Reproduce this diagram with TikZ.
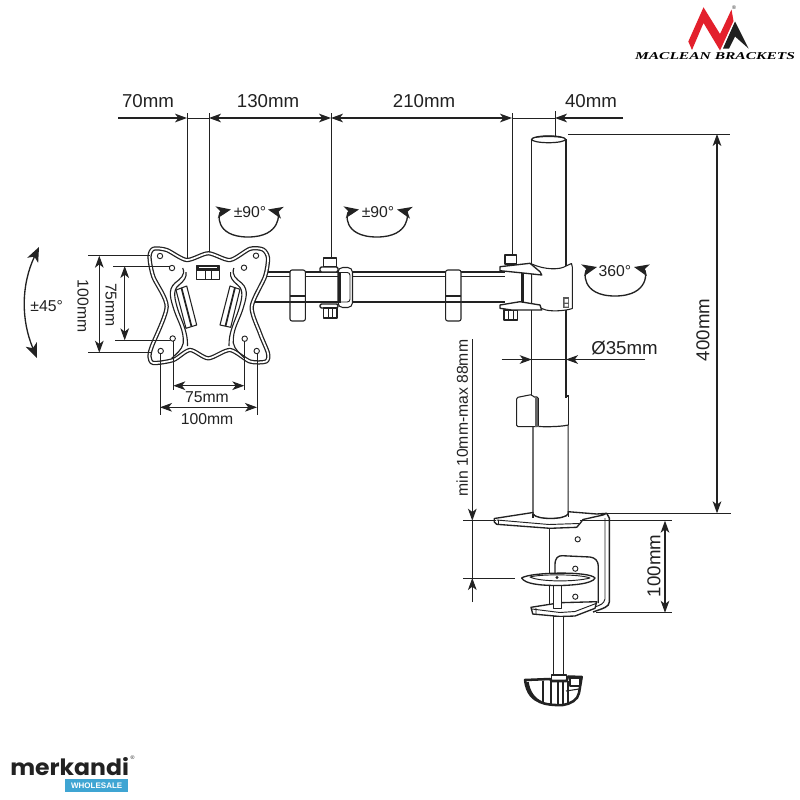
\documentclass[tikz,border=0pt]{standalone}
\usepackage{fontspec}
\usepackage{graphicx}
\setmainfont{Liberation Sans}
\newfontfamily\logoserif{Liberation Serif}
\newfontfamily\merkfont{Poppins}
\usetikzlibrary{arrows.meta}
\definecolor{ink}{HTML}{222222}
\definecolor{mred}{HTML}{E3202C}
\definecolor{mblue}{HTML}{3FA5D3}
\tikzset{
  dim/.style={ink,line width=0.8pt,{Stealth[length=9pt,width=6.5pt,inset=2.5pt]}-{Stealth[length=9pt,width=6.5pt,inset=2.5pt]}},
  dimend/.style={ink,line width=0.8pt,-{Stealth[length=9pt,width=6.5pt,inset=2.5pt]}},
  ext/.style={ink,line width=0.7pt},
  rot/.style={ink,line width=1pt,{Stealth[length=11pt,width=9pt,inset=3pt]}-{Stealth[length=11pt,width=9pt,inset=3pt]}},
  lab/.style={ink,inner sep=0pt,font=\fontsize{14}{14}\selectfont},
  labs/.style={ink,inner sep=0pt,font=\fontsize{11.8}{12}\selectfont},
  part/.style={draw=ink,line width=0.8pt,fill=white,line join=round},
  partline/.style={draw=ink,line width=0.7pt,line join=round},
  hole/.style={draw=ink,line width=0.7pt,fill=white},
}
\begin{document}
\begin{tikzpicture}[x=0.75pt,y=-0.75pt]
\useasboundingbox (0,0) rectangle (800,800);
\fill[white] (0,0) rectangle (800,800);

% ---------- named dimension points
\coordinate (a70s) at (118,118);
\coordinate (a187) at (187,118);
\coordinate (a209) at (209,118);
\coordinate (a331) at (331,118);
\coordinate (a512) at (512,118);
\coordinate (a555) at (555,118);
\coordinate (a40s) at (623,118);
\coordinate (t187) at (187,113);
\coordinate (b187) at (187,259);
\coordinate (t209) at (209,113);
\coordinate (b209) at (209,253);
\coordinate (t331) at (331,113);
\coordinate (b331) at (331,257);
\coordinate (t512) at (512,113);
\coordinate (b512) at (512,255);
\coordinate (t555) at (555,111);
\coordinate (b555) at (555,137);

% top dims
\draw[ext] (t187)--(b187);
\draw[ext] (t209)--(b209);
\draw[ext] (t331)--(b331);
\draw[ext] (t512)--(b512);
\draw[ext] (t555)--(b555);
\draw[dimend] (a70s)--(a187);
\draw[ext] (a187)--(a209);
\draw[dim] (a209)--(a331);
\draw[dim] (a331)--(a512);
\draw[ext] (a512)--(a555);
\draw[dimend] (a40s)--(a555);
\node[lab] (l70) at (148,101) {70mm};
\node[lab] (l130) at (268,101) {130mm};
\node[lab] (l210) at (424,101) {210mm};
\node[lab] (l40) at (591,101) {40mm};

% ---------- arm
\foreach \y in {272,276.5}{\draw[ink,line width=0.9pt] (262,\y)--(505,\y);}
\draw[ink,line width=1.7pt] (250,301.7)--(505,301.7);

% cable clips
\foreach \x in {290,445.7}{
  \draw[part,rounded corners=1.5pt] (\x,270) rectangle (\x+15.3,321);
  \draw[ink,line width=1.3pt] (\x,296)--(\x+15.3,296);
  \draw[ink,line width=1.6pt] (\x,301.7)--(\x+15.3,301.7);
}

% ---------- elbow joint
\draw[part] (323.3,258) rectangle (336.7,267);
\draw[part,line width=1.1pt,rounded corners=1pt] (320,267) rectangle (338,272);
\draw[part,line width=1.1pt,rounded corners=1pt] (320,304) rectangle (338,308);
\draw[part] (323.3,308) rectangle (337,318);
\draw[partline] (328,308)--(328,318) (332.5,308)--(332.5,318);
\draw[part,rounded corners=3.5pt] (338,267.5)--(352.5,267.5)--(352.5,307.5)--(338,307.5)--cycle;
\draw[partline,rounded corners=2pt] (339.3,272.5)--(350,272.5)--(350,302)--(339.3,302);
\draw[ink,line width=1.8pt] (339.5,272)--(339.5,303);
\draw[ink,line width=1.7pt] (352.6,301.7)--(354,301.7);

% ---------- column
\fill[white] (531.7,139) rectangle (566,398);
\draw[ink,line width=0.9pt] (531.7,139) -- (531.7,398) (566,139) -- (566,398);
\draw[part] (533,425) -- (533,514) .. controls (536,520) and (565,520) .. (568.2,514) -- (568.2,425);
\draw[ink,line width=0.9pt,fill=white] (548.6,139.3) ellipse [x radius=17,y radius=3.4];
\fill[ink] (531.7,139) .. controls (535,134.5) and (562,134.5) .. (565.7,139) .. controls (562,136.5) and (535,136.5) .. (531.7,139);

% right joint
\draw[part] (505,255) rectangle (516.7,264);
\draw[part] (504,310) rectangle (517.3,320);
\draw[partline] (508.5,310)--(508.5,320) (513,310)--(513,320);
\draw[ink,line width=2pt] (522.5,272)--(522.5,302);
\draw[part] (531.7,264) .. controls (545,270) and (560,270) .. (566,266) -- (571.5,263.5) -- (572.3,267) -- (572.3,308.5) .. controls (565,311) and (552,311.5) .. (546,310) -- (531.7,305) -- cycle;
\draw[part,line width=1pt] (500,266.7)--(530,263.3)--(540,271.7)--(541.7,275)--(520,272.7)--(500,270.7)--cycle;
\draw[part,line width=1pt] (500,305)--(520,301.7)--(540,305)--(541.7,310)--(511.7,310)--(500,308.3)--cycle;
\fill[ink!75] (563,297) rectangle (569.3,308.3);
\fill[white] (564.5,299) rectangle (568,302.5) (564.5,304) rectangle (568,306.5);
\draw[ink,line width=0.8pt] (531.7,310)--(531.7,320);

% column clip
\draw[part,rounded corners=1pt] (516.7,397.5)--(532,394.5)--(533,397)--(538.3,397)--(538.3,426.7)--(516.7,426.7)--cycle;
\fill[ink!70] (535,397.5) rectangle (538.3,426.5);
\draw[ink,line width=0.9pt] (538.3,426.5) .. controls (550,427) and (562,426.5) .. (568.3,425);
\draw[ink,line width=0.9pt] (566,396)--(568.3,396)--(568.3,425);

% Ø35
\coordinate (d1s) at (501.7,359.5);
\coordinate (d1e) at (531.7,359.5);
\coordinate (d2s) at (645,359.5);
\coordinate (d2e) at (566,359.5);
\draw[dimend] (d1s)--(d1e);
\draw[dimend] (d2s)--(d2e);
\draw[ext] (d1e)--(d2e);
\node[lab] (ldia) at (624.5,348) {Ø35mm};

% ---------- clamp
\draw[partline,line width=0.9pt] (549.3,527)--(549.3,606);
\draw[ink,line width=1.1pt,line join=round] (606.7,513.3)--(609.3,518)--(609.3,602) .. controls (609,607) and (604,608) .. (593,612);
\draw[partline] (605,518)--(605,599) .. controls (604,604) and (600,605) .. (595,607);
\draw[part,line width=1pt] (555,603)--(555,565) .. controls (555,558) and (558,555.7) .. (562,555.7) -- (590,557) .. controls (595,557.5) and (598.3,561) .. (598.3,566) -- (598.3,603);
\foreach \p in {(577.7,539.3),(575.3,568.7),(575.3,596.7)}{\draw[hole] \p circle (2.6);}
\draw[part,line width=1pt] (494.3,518.5)--(533,512.5)--(533,514) .. controls (536,520) and (565,520) .. (568.2,514) -- (568.2,511.7)--(596.7,514)--(606.7,513.3)--(603,515)--(583,519.5)--(580,523.5)--(576.7,527.3)--(550,528.3)--(496.7,524.3)--(494.3,522)--cycle;
\draw[partline] (496.7,520) -- (549,524.5) -- (579,523.5);
\draw[partline] (498,519.5)--(498,524);
\draw[ink,line width=0.9pt] (533,514)--(533,518) (568.2,514)--(568.2,517);

% lower plate
\draw[part,line width=1pt] (531,607.3)--(560,602.7)--(596.7,601.7)--(595,608.3)--(575,616)--(560,616.5)--(532.7,614)--cycle;
\draw[partline] (536,608)--(536,614) (532,609)--(560,612.5)--(575,611.5)--(596,603.5);
% screw
\draw[part] (553.3,583) rectangle (561.8,608.5);
\draw[part] (553.3,616.3) rectangle (563.3,675);
\draw[ink,line width=1pt] (553.3,616.3)--(553.3,675) (563.3,616.3)--(563.3,675);
% disc
\draw[part,line width=1pt] (521.7,578) .. controls (530,572) and (590,571) .. (595,578) .. controls (593,584) and (570,585.5) .. (558,585.5) .. controls (540,585.5) and (525,584) .. (521.7,578) -- cycle;
\draw[partline] (530,577) .. controls (540,574) and (580,574) .. (590,578) .. controls (575,582) and (540,582) .. (530,577) -- cycle;
\fill[ink] (557,577.5) circle (1.6);

% knob
\draw[part] (551.7,675) -- (566.7,675) -- (566.7,682) -- (551.7,682) -- cycle;
\draw[ink,line width=1.9pt,fill=white,line join=round] (525,680) -- (550,679) -- (551.7,681) -- (566.7,681) -- (568,676.5) -- (581.7,677) -- (579,693) .. controls (578,700) and (570,704) .. (563,705) .. controls (553,705.5) and (544,704) .. (540,702) .. controls (533,699) and (527,694) .. (525,680) -- cycle;
\draw[ink,line width=1.8pt] (527.5,682) .. controls (529,692) and (534,699) .. (541,702);
\foreach \x in {543,551,558,563,568}{\draw[ink,line width=0.8pt] (\x,681)--(\x,704);}
\draw[part] (570,678) rectangle (580,686);
\draw[ink,line width=0.8pt] (566,691) -- (579,689);

% clamp dims
\coordinate (m1) at (472.3,339);
\coordinate (m2) at (472.3,520.7);
\coordinate (m3) at (472.3,602);
\coordinate (m4) at (472.3,578);
\coordinate (e1a) at (463,520.7);
\coordinate (e1b) at (496,520.7);
\coordinate (e2a) at (463,578);
\coordinate (e2b) at (515,578);
\draw[ext] (e1a)--(e1b);
\draw[ext] (e2a)--(e2b);
\draw[dimend] (m1)--(m2);
\draw[dimend] (m3)--(m4);
\draw[ext] (m2)--(m4);
\node[labs,rotate=90] (lmin) at (462.3,418) {min 10mm-max 88mm};

\coordinate (h1a) at (580,520.7);
\coordinate (h1b) at (671.7,520.7);
\coordinate (h2a) at (596,612.7);
\coordinate (h2b) at (671.7,612.7);
\coordinate (h1) at (665,520.7);
\coordinate (h2) at (665,612.7);
\draw[ext] (h1a)--(h1b);
\draw[ext] (h2a)--(h2b);
\draw[dim] (h1)--(h2);
\node[lab,rotate=90] (l100r) at (654,566) {100mm};

% 400mm
\coordinate (v1a) at (568,134);
\coordinate (v1b) at (730,134);
\coordinate (v2a) at (606,513.3);
\coordinate (v2b) at (731,513.3);
\coordinate (v1) at (717,134);
\coordinate (v2) at (717,513.3);
\draw[ext] (v1a)--(v1b);
\draw[ext] (v2a)--(v2b);
\draw[dim] (v1)--(v2);
\node[lab,rotate=90] (l400) at (703,330) {400mm};

% ---------- plate
\draw[ink,line width=0.95pt,double=white,double distance=1.3pt,fill=white,line join=round]
 plot[smooth cycle,tension=0.45] coordinates {
 (186.7,260)(208.3,253.3)(230,260)(250,248.8)(263,249.5)(268,258)(265,276.7)(251.7,306.7)(260,333.3)(268,353.3)(266,361.5)(250,361.5)(230,350)(208.3,358.3)(190,350)(173.3,360)(153.3,363)(149.5,356.7)(151.7,346.7)(166.7,306.7)(153.3,276.7)(149.5,257)(153.3,248.8)(166.7,250)};
\draw[partline,line width=0.85pt] (182.7,268) .. controls (186,275) and (180,279) .. (175,283) .. controls (167,290) and (171,300) .. (174,310) .. controls (178,322) and (184,330) .. (183.3,343) .. controls (182,350) and (176,354) .. (171.7,358.3);
\draw[partline,line width=0.85pt] (186,272) .. controls (187,277) and (184,281) .. (179,285) .. controls (172,290) and (175,300) .. (178,310) .. controls (182,322) and (188,332) .. (187.5,346);
\draw[partline,line width=0.85pt] (233.9,268) .. controls (231,275) and (236.6,279) .. (241.6,283) .. controls (249.6,290) and (245.6,300) .. (242.6,310) .. controls (238.6,322) and (232.6,330) .. (233.3,343) .. controls (234.6,350) and (240.6,354) .. (244.9,358.3);
\draw[partline,line width=0.85pt] (230.6,272) .. controls (229.6,277) and (232.6,281) .. (237.6,285) .. controls (244.6,290) and (241.6,300) .. (238.6,310) .. controls (234.6,322) and (228.6,332) .. (229,346);
% slots
\draw[part] (176,290)--(186.7,286)--(196.7,325)--(186,328.3)--cycle;
\draw[ink,line width=1.3pt] (181.5,288)--(191.5,326.5);
\draw[part] (230,286)--(240,289.3)--(230.7,327.3)--(220,325)--cycle;
\draw[ink,line width=1.3pt] (235,287.5)--(225.5,326);
% window
\draw[part] (196.7,266) rectangle (219.3,279.3);
\fill[ink] (196.7,266) rectangle (219.3,270.5);
\fill[white] (199,267) rectangle (217,268.3);
\draw[partline] (205,270.5)--(205,279.3) (211.7,270.5)--(211.7,279.3);
% holes
\foreach \p in {(160,256),(172,268),(172.7,338.5),(160.7,351),(256,255.7),(244,267.7),(244.7,338.7),(256.7,351)}{\draw[hole] \p circle (2.7);}

% plate dims
\coordinate (p100a) at (88,255.7);
\coordinate (p100b) at (150,255.7);
\coordinate (p100c) at (88,352.7);
\coordinate (p100d) at (151,352.7);
\coordinate (p100t) at (99.3,255.7);
\coordinate (p100e) at (99.3,352.7);
\coordinate (p75a) at (113,266);
\coordinate (p75b) at (169.5,266);
\coordinate (p75c) at (115,340.3);
\coordinate (p75d) at (170,340.3);
\coordinate (p75t) at (124.7,266);
\coordinate (p75e) at (124.7,340.3);
\draw[ext] (p100a)--(p100b);
\draw[ext] (p100c)--(p100d);
\draw[dim] (p100t)--(p100e);
\draw[ext] (p75a)--(p75b);
\draw[ext] (p75c)--(p75d);
\draw[dim] (p75t)--(p75e);
\node[labs,rotate=-90] (l100v) at (83,306) {100mm};
\node[labs,rotate=-90] (l75v) at (111,305) {75mm};

\coordinate (q75a) at (173.3,341);
\coordinate (q75b) at (173.3,390);
\coordinate (q75c) at (244.3,341);
\coordinate (q75d) at (244.3,390);
\coordinate (q75l) at (173.3,385.7);
\coordinate (q75r) at (244.3,385.7);
\coordinate (q100a) at (160,354);
\coordinate (q100b) at (160,415);
\coordinate (q100c) at (257,354);
\coordinate (q100d) at (257,415);
\coordinate (q100l) at (160,407.3);
\coordinate (q100r) at (257,407.3);
\draw[ext] (q75a)--(q75b);
\draw[ext] (q75c)--(q75d);
\draw[dim] (q75l)--(q75r);
\draw[ext] (q100a)--(q100b);
\draw[ext] (q100c)--(q100d);
\draw[dim] (q100l)--(q100r);
\node[labs] (l75h) at (207,397.5) {75mm};
\node[labs] (l100h) at (207,419.5) {100mm};

% rotation marks
\coordinate (r45a) at (39,247);
\coordinate (r45b) at (37,358);
\draw[rot] (r45a) .. controls (21,285) and (21,320) .. (r45b);
\node[labs] (l45) at (46.7,306.5) {±45°};

\coordinate (r90a) at (231,209.5);
\coordinate (r90b) at (268,209.5);
\draw[rot] (r90a) .. controls (218,212) and (214,237) .. (248,237) .. controls (282,237) and (279,212) .. (r90b);
\node[labs] (l90a) at (250,212.5) {±90°};

\coordinate (r90c) at (359,209.5);
\coordinate (r90d) at (397,209.5);
\draw[rot] (r90c) .. controls (346,212) and (342,237) .. (377,237) .. controls (411,237) and (408,212) .. (r90d);
\node[labs] (l90b) at (378,212.5) {±90°};

\coordinate (r360a) at (597,267);
\coordinate (r360b) at (634,267);
\draw[rot] (r360a) .. controls (584,270) and (580,296) .. (615,296) .. controls (650,296) and (647,270) .. (r360b);
\node[labs] (l360) at (615,271.5) {360°};

% ---------- logo
\fill[mred] (688.3,41.5)--(703.5,7.3)--(720,34)--(731.5,9.5)--(733.5,21)--(720,50.5)--(703.5,23)--(692,50)--cycle;
\fill[ink!90!black] (723,48.5)--(735,21.5)--(748.5,48.5)--(735,36.5)--(729,48.5)--cycle;
\node[ink,inner sep=0pt,font=\fontsize{4}{4}\selectfont] (lreg) at (734,7.5) {®};
\node[black,inner sep=0pt] (lmac) at (715,56.5) {\resizebox{120pt}{5.2pt}{\logoserif\bfseries\itshape MACLEAN BRACKETS}};

% ---------- merkandi
\node[ink,inner sep=0pt,anchor=south west] (lmerk) at (10,775.5) {\resizebox{89pt}{13.5pt}{\merkfont\bfseries merkandi}};
\node[ink,inner sep=0pt,font=\fontsize{4}{4}\selectfont] (lmreg) at (132.7,757.5) {®};
\node[fill=mblue,text=white,inner sep=0pt,minimum width=47.5pt,minimum height=9.4pt,font=\fontsize{6}{7}\selectfont\bfseries] (lwh) at (96.7,785.5) {WHOLESALE};
\end{tikzpicture}
\end{document}
